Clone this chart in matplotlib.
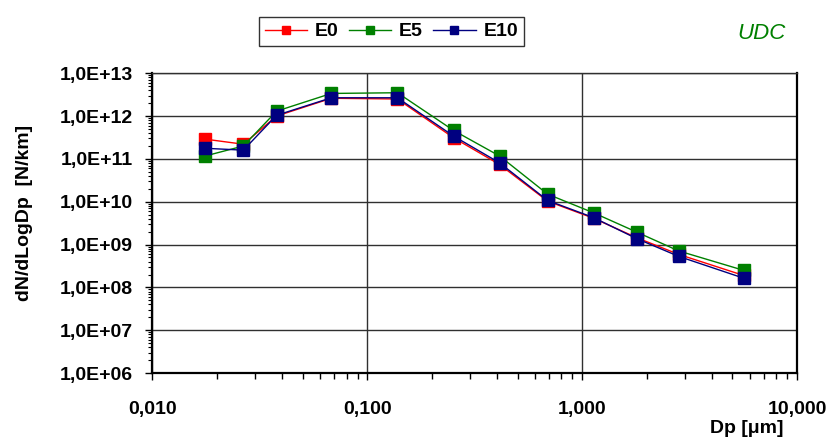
import matplotlib
matplotlib.use("Agg")
import matplotlib.pyplot as plt
import matplotlib.ticker as mticker
import numpy as np

plt.rcParams['font.family'] = ['Liberation Sans', 'DejaVu Sans']

# particle diameter [um]
dp = [0.0175, 0.0265, 0.0378, 0.068, 0.138, 0.252, 0.412, 0.69, 1.13, 1.79, 2.81, 5.64]

e0 = [2.9e11, 2.2e11, 1.0e12, 2.6e12, 2.5e12, 3.1e11, 7.4e10, 1.03e10, 4.1e9, 1.45e9, 5.9e8, 1.9e8]
e5 = [1.16e11, 2.0e11, 1.3e12, 3.37e12, 3.5e12, 4.6e11, 1.17e11, 1.5e10, 5.5e9, 1.96e9, 7.1e8, 2.5e8]
e10 = [1.77e11, 1.6e11, 1.04e12, 2.67e12, 2.67e12, 3.4e11, 8.1e10, 1.07e10, 4.25e9, 1.38e9, 5.3e8, 1.64e8]

series = [("E0", e0, "#ff0000"), ("E5", e5, "#008000"), ("E10", e10, "#000080")]

fig = plt.figure(figsize=(8.33, 4.41), dpi=100)
ax = fig.add_axes([0.183, 0.154, 0.774, 0.680])

for name, vals, col in series:
    ax.plot(dp, vals, color=col, lw=1.0, marker='s', ms=8, mec=col, mfc=col, label=name)

ax.set_xscale('log')
ax.set_yscale('log')
ax.set_xlim(0.01, 10)
ax.set_ylim(1e6, 1e13)

ax.set_xticks([0.01, 0.1, 1, 10])
ax.set_xticklabels(["0,010", "0,100", "1,000", "10,000"])
ax.xaxis.set_minor_locator(mticker.LogLocator(base=10, subs=np.arange(2, 10)))
ax.xaxis.set_minor_formatter(mticker.NullFormatter())
yt = [10.0 ** k for k in range(6, 14)]
ax.set_yticks(yt)
ax.set_yticklabels(["1,0E+%02d" % k for k in range(6, 14)])
ax.yaxis.set_minor_locator(mticker.LogLocator(base=10, subs=np.arange(2, 10)))
ax.yaxis.set_minor_formatter(mticker.NullFormatter())

ax.tick_params(axis='x', which='major', direction='out', length=5, width=1, pad=15, labelsize=14)
ax.tick_params(axis='x', which='minor', direction='out', length=4, width=1)
ax.tick_params(axis='y', which='major', direction='out', length=5, width=1, pad=9, labelsize=14)
ax.tick_params(axis='y', which='minor', direction='out', length=3, width=0.8)
for lab in ax.get_xticklabels() + ax.get_yticklabels():
    lab.set_fontweight('bold')

ax.grid(True, which='major', color='#303030', lw=1.0)
ax.set_axisbelow(True)
for s in ['left', 'bottom', 'right']:
    ax.spines[s].set_linewidth(1.6)
    ax.spines[s].set_color('black')
ax.spines['top'].set_color('#303030')
ax.spines['top'].set_linewidth(1.0)

ax.set_ylabel("dN/dLogDp  [N/km]", fontsize=14, fontweight='bold')
ax.yaxis.set_label_coords(-0.185, 0.535)
fig.text(0.94, 0.01, "Dp [\u03bcm]", fontsize=14, fontweight='bold', ha='right', va='bottom')

leg = ax.legend(loc='lower left', bbox_to_anchor=(0.165, 1.09), ncol=3, frameon=True,
                fancybox=False, edgecolor='black', prop={'weight': 'bold', 'size': 14},
                handlelength=2.2, handletextpad=0.4, columnspacing=0.5, markerscale=0.8,
                borderpad=0.3, borderaxespad=0.0)
leg.get_frame().set_linewidth(1.0)

fig.text(0.943, 0.925, "UDC", fontsize=16, style='italic', color='#008000', ha='right', va='center')

fig.savefig("out.png", dpi=100)
